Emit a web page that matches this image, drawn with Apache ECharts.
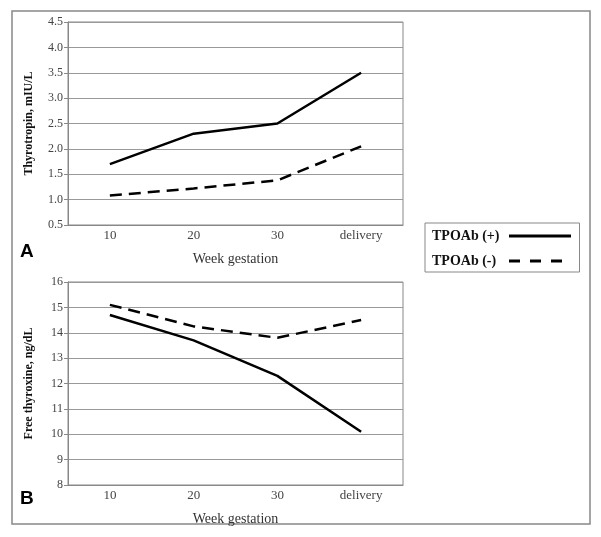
<!DOCTYPE html>
<html><head><meta charset="utf-8">
<script src="https://cdn.jsdelivr.net/npm/echarts@6/dist/echarts.min.js"></script>
<style>html,body{margin:0;padding:0;background:#fff}#c{width:601px;height:537px}</style>
</head><body><div id="c"></div>
<script>
const categories = ['10', '20', '30', 'delivery'];
const tshPos = [1.7, 2.3, 2.5, 3.5];
const tshNeg = [1.08, 1.22, 1.38, 2.05];
const ft4Pos = [14.7, 13.7, 12.3, 10.1];
const ft4Neg = [15.1, 14.25, 13.8, 14.5];
const seriesNames = ['TPOAb (+)', 'TPOAb (-)'];

const serif = 'Liberation Serif';
const chart = echarts.init(document.getElementById('c'));
function xAxis(idx) {
  return {
    type: 'category', gridIndex: idx, data: categories, boundaryGap: true,
    axisLine: { show: true, lineStyle: { color: '#888', width: 1 } },
    axisTick: { show: false },
    axisLabel: { color: '#444', fontFamily: serif, fontSize: 13, margin: 4 },
    name: 'Week gestation', nameLocation: 'middle', nameGap: 27,
    nameTextStyle: { color: '#333', fontFamily: serif, fontSize: 14 }
  };
}
function yAxis(idx, min, max, interval, name, fmt) {
  return {
    type: 'value', gridIndex: idx, min: min, max: max, interval: interval,
    axisLine: { show: true, lineStyle: { color: '#888', width: 1 } },
    axisTick: { show: true, length: 4, lineStyle: { color: '#888' } },
    splitLine: { show: true, lineStyle: { color: '#999', width: 1 } },
    axisLabel: { color: '#444', fontFamily: serif, fontSize: 12, margin: 5, formatter: fmt },
    name: name, nameLocation: 'middle', nameGap: 33, nameRotate: 90,
    nameTextStyle: { color: '#111', fontFamily: serif, fontSize: 12, fontWeight: 'bold' }
  };
}
function line(name, data, xi, dashed) {
  return {
    name: name, type: 'line', xAxisIndex: xi, yAxisIndex: xi, data: data,
    symbol: 'none', smooth: false,
    lineStyle: { color: '#000', width: 2.5, type: dashed ? [12, 7] : 'solid' },
    itemStyle: { color: '#000' }
  };
}
chart.setOption({
  animation: false,
  backgroundColor: '#fff',
  grid: [
    { left: 68, top: 22, width: 335, height: 203, show: true, borderColor: '#888', borderWidth: 1 },
    { left: 68, top: 282, width: 335, height: 203, show: true, borderColor: '#888', borderWidth: 1 }
  ],
  xAxis: [xAxis(0), xAxis(1)],
  yAxis: [
    yAxis(0, 0.5, 4.5, 0.5, 'Thyrotropin, mIU/L', v => v.toFixed(1)),
    yAxis(1, 8, 16, 1, 'Free thyroxine, ng/dL', v => String(v))
  ],
  legend: {
    orient: 'vertical', left: 425, top: 223, align: 'right',
    data: [
      { name: seriesNames[0], lineStyle: { width: 3, type: 'solid' } },
      { name: seriesNames[1], lineStyle: { width: 3, type: [11, 10] } }
    ],
    itemWidth: 62, itemHeight: 14, itemGap: 11,
    padding: [6, 7, 4, 7],
    borderColor: '#888', borderWidth: 1,
    itemStyle: { opacity: 0 },
    formatter: n => '{a|' + n + '}',
    textStyle: {
      color: '#111', fontFamily: serif, fontSize: 14, fontWeight: 'bold',
      rich: { a: { width: 72, align: 'left', color: '#111', fontFamily: serif, fontSize: 14, fontWeight: 'bold' } }
    }
  },
  graphic: [
    { type: 'rect', shape: { x: 12, y: 11, width: 578, height: 513 }, style: { fill: 'none', stroke: '#888', lineWidth: 1.5 }, z: -1 },
    { type: 'text', left: 20, top: 242, style: { text: 'A', fontFamily: 'Liberation Sans', fontSize: 19, fontWeight: 'bold', fill: '#000' } },
    { type: 'text', left: 20, top: 489, style: { text: 'B', fontFamily: 'Liberation Sans', fontSize: 19, fontWeight: 'bold', fill: '#000' } }
  ],
  series: [
    line(seriesNames[0], tshPos, 0, false),
    line(seriesNames[1], tshNeg, 0, true),
    line(seriesNames[0], ft4Pos, 1, false),
    line(seriesNames[1], ft4Neg, 1, true)
  ]
});
</script></body></html>
